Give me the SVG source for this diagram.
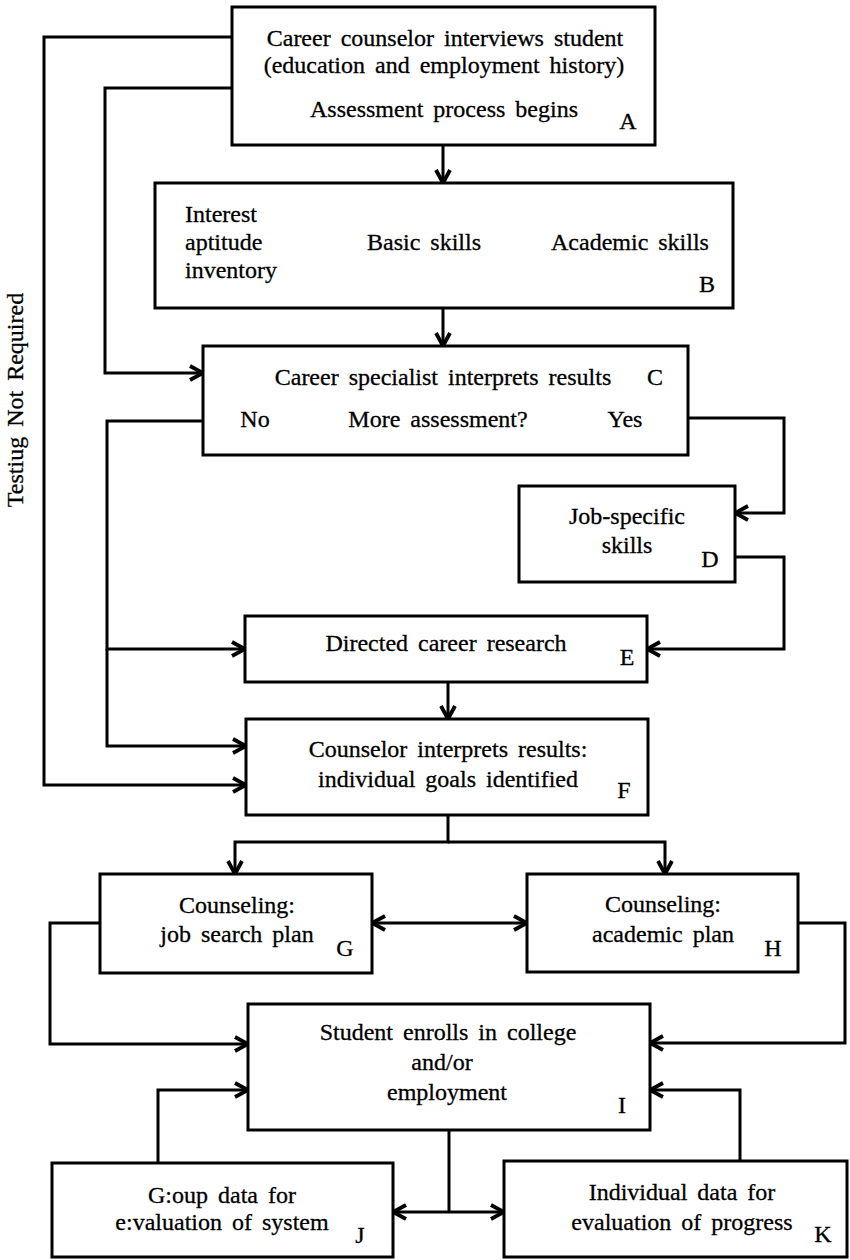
<svg xmlns="http://www.w3.org/2000/svg" width="850" height="1260" viewBox="0 0 850 1260">
<style>
.box{fill:#fff;stroke:#000;stroke-width:3}
.ln{fill:none;stroke:#000;stroke-width:3}
text{font-family:"Liberation Serif","Times New Roman",serif;font-size:24px;fill:#000;word-spacing:4px;stroke:#000;stroke-width:0.3px}
.c{text-anchor:middle}
</style>
<defs>
<marker id="ah" markerUnits="userSpaceOnUse" markerWidth="18" markerHeight="18" viewBox="0 0 18 18" refX="16" refY="9" orient="auto-start-reverse">
<path d="M3,2 L16,9 L3,16" fill="none" stroke="#000" stroke-width="3.8"/>
</marker>
</defs>
<rect width="850" height="1260" fill="#fff"/>
<g id="connectors">
<path class="ln" d="M232,37 H44 V785 H246" marker-end="url(#ah)"/>
<path class="ln" d="M232,88 H105 V373 H203" marker-end="url(#ah)"/>
<path class="ln" d="M443,145 V183" marker-end="url(#ah)"/>
<path class="ln" d="M443,308 V346" marker-end="url(#ah)"/>
<path class="ln" d="M203,421 H107 V649 H245" marker-end="url(#ah)"/>
<path class="ln" d="M107,649 V746 H246" marker-end="url(#ah)"/>
<path class="ln" d="M688,418 H784 V513 H735" marker-end="url(#ah)"/>
<path class="ln" d="M735,557 H784 V649 H647" marker-end="url(#ah)"/>
<path class="ln" d="M448,682 V719" marker-end="url(#ah)"/>
<path class="ln" d="M448,815 V842 H235 V874" marker-end="url(#ah)"/>
<path class="ln" d="M448,842 H665 V874" marker-end="url(#ah)"/>
<path class="ln" d="M372,923 H527" marker-start="url(#ah)" marker-end="url(#ah)"/>
<path class="ln" d="M100,923 H50 V1044 H248" marker-end="url(#ah)"/>
<path class="ln" d="M798,923 H845 V1043 H650" marker-end="url(#ah)"/>
<path class="ln" d="M158,1163 V1090 H248" marker-end="url(#ah)"/>
<path class="ln" d="M740,1161 V1090 H650" marker-end="url(#ah)"/>
<path class="ln" d="M449,1130 V1212"/>
<path class="ln" d="M393,1212 H504" marker-start="url(#ah)" marker-end="url(#ah)"/>
</g>
<text transform="translate(23,400) rotate(-90)" class="c">Testiug Not Required</text>
<g id="A">
<rect class="box" x="232" y="7" width="423" height="138"/>
<text class="c" x="445" y="46">Career counselor interviews student</text>
<text class="c" x="444" y="73">(education and employment history)</text>
<text class="c" x="444" y="117">Assessment process begins</text>
<text class="c" x="628" y="129">A</text>
</g>
<g id="B">
<rect class="box" x="155" y="183" width="578" height="125"/>
<text x="185" y="222">Interest</text>
<text x="185" y="250">aptitude</text>
<text x="185" y="278">inventory</text>
<text x="367" y="250">Basic skills</text>
<text x="551" y="250">Academic skills</text>
<text class="c" x="707" y="292">B</text>
</g>
<g id="C">
<rect class="box" x="203" y="346" width="485" height="109"/>
<text class="c" x="443" y="385">Career specialist interprets results</text>
<text class="c" x="655" y="385">C</text>
<text class="c" x="255" y="427">No</text>
<text class="c" x="438" y="427">More assessment?</text>
<text class="c" x="625" y="427">Yes</text>
</g>
<g id="D">
<rect class="box" x="519" y="486" width="216" height="96"/>
<text class="c" x="627" y="524">Job-specific</text>
<text class="c" x="627" y="553">skills</text>
<text class="c" x="710" y="567">D</text>
</g>
<g id="E">
<rect class="box" x="245" y="616" width="402" height="66"/>
<text class="c" x="446" y="651">Directed career research</text>
<text class="c" x="627" y="665">E</text>
</g>
<g id="F">
<rect class="box" x="246" y="719" width="402" height="96"/>
<text class="c" x="448" y="757">Counselor interprets results:</text>
<text class="c" x="448" y="787">individual goals identified</text>
<text class="c" x="624" y="798">F</text>
</g>
<g id="G">
<rect class="box" x="100" y="874" width="272" height="99"/>
<text class="c" x="237" y="913">Counseling:</text>
<text class="c" x="237" y="942">job search plan</text>
<text class="c" x="345" y="956">G</text>
</g>
<g id="H">
<rect class="box" x="527" y="874" width="271" height="98"/>
<text class="c" x="663" y="912">Counseling:</text>
<text class="c" x="663" y="942">academic plan</text>
<text class="c" x="773" y="956">H</text>
</g>
<g id="I">
<rect class="box" x="248" y="1004" width="402" height="126"/>
<text class="c" x="448" y="1040">Student enrolls in college</text>
<text class="c" x="442" y="1070">and/or</text>
<text class="c" x="447" y="1100">employment</text>
<text class="c" x="622" y="1113">I</text>
</g>
<g id="J">
<rect class="box" x="52" y="1163" width="341" height="94"/>
<text class="c" x="222" y="1203">G:oup data for</text>
<text class="c" x="222" y="1230">e:valuation of system</text>
<text class="c" x="360" y="1243">J</text>
</g>
<g id="K">
<rect class="box" x="504" y="1161" width="343" height="96"/>
<text class="c" x="682" y="1200">Individual data for</text>
<text class="c" x="682" y="1230">evaluation of progress</text>
<text class="c" x="823" y="1242">K</text>
</g>
</svg>
